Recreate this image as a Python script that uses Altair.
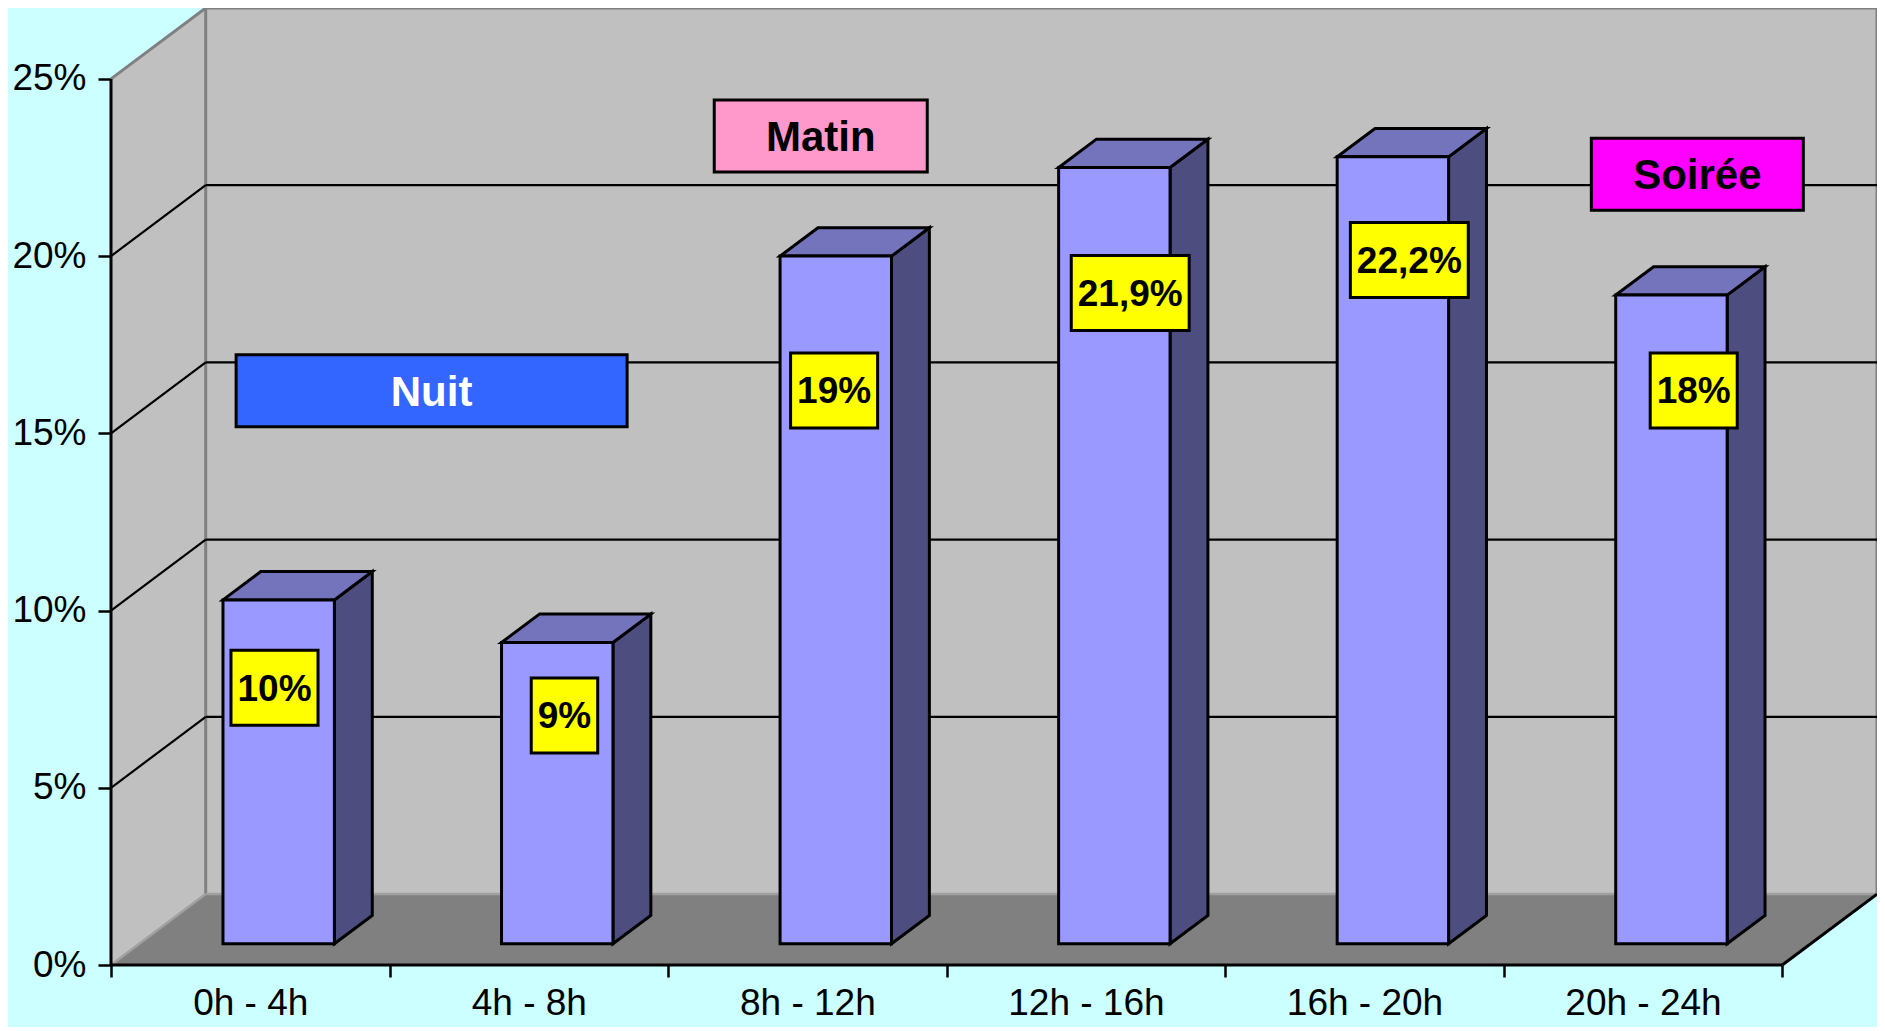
import json
import altair as alt
import pandas as pd

# ---------------- data ----------------
categories = ["0h - 4h", "4h - 8h", "8h - 12h", "12h - 16h", "16h - 20h", "20h - 24h"]
values = [9.7, 8.5, 19.4, 21.9, 22.2, 18.3]
value_labels = ["10%", "9%", "19%", "21,9%", "22,2%", "18%"]
# label-box centres (x in category units, y in %)
label_x = [0.587, 1.628, 2.596, 3.659, 4.661, 5.682]
label_y = [7.82, 7.04, 16.21, 18.96, 19.89, 16.21]

periods = ["Nuit", "Matin", "Soirée"]
period_x = [1.151, 2.548, 5.695]
period_y = [16.20, 23.39, 22.31]
period_w_px = [391, 213, 212]
period_fill = ["#3366FF", "#FF99CC", "#FF00FF"]
period_text = ["#FFFFFF", "#000000", "#000000"]

y_ticks = [0, 5, 10, 15, 20, 25]

# ---------------- 3-D projection constants ----------------
DX = 0.34      # depth shift, in category units
DY = 2.0       # depth shift, in %
F0, F1 = 0.3, 0.7   # bar front / back depth fractions
GAP, BW = 0.3, 0.4  # bar offset and width inside a category
NCAT = len(categories)
XMAX = NCAT + DX
YTOP = y_ticks[-1]
YMAX = YTOP + DY
PLOT_W, PLOT_H = 1766, 957
PXX = PLOT_W / XMAX
PXY = PLOT_H / YMAX

FONT = "Liberation Sans"
BG = "#CCFFFF"

xs = alt.Scale(domain=[0, XMAX], nice=False, zero=False)
ys = alt.Scale(domain=[0, YMAX], nice=False, zero=False)

x_axis = alt.Axis(
    values=list(range(NCAT + 1)),
    labelExpr=f"datum.value < {NCAT} ? {json.dumps(categories)}[datum.value] : ''",
    labelOffset=PXX / 2, labelFlush=False, labelOverlap=False, labelBound=False,
    domain=False, grid=False, tickSize=12, tickWidth=2.5, tickColor="black",
    labelFont=FONT, labelFontSize=37, labelColor="black", labelPadding=8, title=None,
)
y_axis = alt.Axis(
    values=y_ticks, labelExpr="datum.value + '%'", labelOverlap=False,
    domain=False, grid=False, tickSize=13, tickWidth=2.5, tickColor="black",
    labelFont=FONT, labelFontSize=37, labelColor="black", labelPadding=12, title=None,
)


def X(f):
    return alt.X(f, scale=xs, axis=x_axis)


def Y(f):
    return alt.Y(f, scale=ys, axis=y_axis)


# ---------------- walls & floor ----------------
back = pd.DataFrame([{"x0": DX, "x1": XMAX, "y0": DY, "y1": YMAX}])
back_l = alt.Chart(back).mark_rect(fill="#C0C0C0").encode(
    x=X("x0:Q"), x2="x1:Q", y=Y("y0:Q"), y2="y1:Q")

left = pd.DataFrame([{"x": 0, "y": 0, "y2": YTOP}, {"x": DX, "y": DY, "y2": YMAX}])
left_l = alt.Chart(left).mark_area(fill="#C0C0C0").encode(
    x=X("x:Q"), y=Y("y:Q"), y2="y2:Q")

floor = pd.DataFrame([{"y": 0, "x": 0, "x2": NCAT}, {"y": DY, "x": DX, "x2": XMAX}])
floor_l = alt.Chart(floor).mark_area(fill="#808080", orient="horizontal").encode(
    y=Y("y:Q"), x=X("x:Q"), x2="x2:Q")

segs = []
EDGE = "#808080"
segs += [
    dict(x=DX, y=YMAX, x2=XMAX, y2=YMAX, c=EDGE, w=3),
    dict(x=XMAX, y=DY, x2=XMAX, y2=YMAX, c=EDGE, w=3),
    dict(x=DX, y=DY, x2=DX, y2=YMAX, c=EDGE, w=3),
    dict(x=0, y=YTOP, x2=DX, y2=YMAX, c=EDGE, w=3),
    dict(x=0, y=0, x2=DX, y2=DY, c="#A0A0A0", w=2.5),
    dict(x=DX, y=DY, x2=XMAX, y2=DY, c="#A0A0A0", w=2.5),
]
for k in y_ticks[1:-1]:
    segs.append(dict(x=DX, y=k + DY, x2=XMAX, y2=k + DY, c="black", w=2.2))
    segs.append(dict(x=0, y=k, x2=DX, y2=k + DY, c="black", w=2.2))
segs += [
    dict(x=0, y=0, x2=NCAT, y2=0, c="black", w=3),
    dict(x=NCAT, y=0, x2=XMAX, y2=DY, c="black", w=3),
    dict(x=0, y=0, x2=0, y2=YTOP, c="black", w=3),
]
seg_l = alt.Chart(pd.DataFrame(segs)).mark_rule().encode(
    x=X("x:Q"), x2="x2:Q", y=Y("y:Q"), y2="y2:Q",
    color=alt.Color("c:N", scale=None), strokeWidth=alt.StrokeWidth("w:Q", scale=None))

# ---------------- bars ----------------
front_rows, side_rows, top_rows = [], [], []
dd = (F1 - F0) * DX
dh = (F1 - F0) * DY
for i, v in enumerate(values):
    xl = i + GAP + F0 * DX
    xr = xl + BW
    yb = F0 * DY
    yt = v + F0 * DY
    front_rows.append(dict(b=i, x0=xl, x1=xr, y0=yb, y1=yt))
    side_rows += [dict(b=i, x=xr, y=yb, y2=yt), dict(b=i, x=xr + dd, y=yb + dh, y2=yt + dh)]
    top_rows += [dict(b=i, y=yt, x=xl, x2=xr), dict(b=i, y=yt + dh, x=xl + dd, x2=xr + dd)]

SW = 3
side_l = alt.Chart(pd.DataFrame(side_rows)).mark_area(
    fill="#4D4D80", stroke="black", strokeWidth=SW).encode(
    x=X("x:Q"), y=Y("y:Q"), y2="y2:Q", detail="b:N")
top_l = alt.Chart(pd.DataFrame(top_rows)).mark_area(
    fill="#7474BD", stroke="black", strokeWidth=SW, orient="horizontal").encode(
    y=Y("y:Q"), x=X("x:Q"), x2="x2:Q", detail="b:N")
front_l = alt.Chart(pd.DataFrame(front_rows)).mark_rect(
    fill="#9999FF", stroke="black", strokeWidth=SW).encode(
    x=X("x0:Q"), x2="x1:Q", y=Y("y0:Q"), y2="y1:Q")

# ---------------- value labels ----------------
CW = {c: 0.556 for c in "0123456789"}
CW.update({",": 0.278, "%": 0.889})
VFS = 37
rows = []
for t, lx, ly in zip(value_labels, label_x, label_y):
    wpx = sum(CW.get(c, 0.6) for c in t) * VFS + 13
    hpx = 75
    rows.append(dict(t=t, cx=lx, cy=ly,
                     x0=lx - wpx / 2 / PXX, x1=lx + wpx / 2 / PXX,
                     y0=ly - hpx / 2 / PXY, y1=ly + hpx / 2 / PXY))
vl = pd.DataFrame(rows)
vbox_l = alt.Chart(vl).mark_rect(fill="#FFFF00", stroke="black", strokeWidth=SW).encode(
    x=X("x0:Q"), x2="x1:Q", y=Y("y0:Q"), y2="y1:Q")
vtxt_l = alt.Chart(vl).mark_text(font=FONT, fontWeight="bold", fontSize=VFS,
                                 align="center", baseline="middle", dy=2, color="black").encode(
    x=X("cx:Q"), y=Y("cy:Q"), text="t:N")

# ---------------- period annotations ----------------
prow = []
for t, px, py, w, f, tc in zip(periods, period_x, period_y, period_w_px, period_fill, period_text):
    h = 72
    prow.append(dict(t=t, cx=px, cy=py, f=f, tc=tc,
                     x0=px - w / 2 / PXX, x1=px + w / 2 / PXX,
                     y0=py - h / 2 / PXY, y1=py + h / 2 / PXY))
pl = pd.DataFrame(prow)
pbox_l = alt.Chart(pl).mark_rect(stroke="black", strokeWidth=SW).encode(
    x=X("x0:Q"), x2="x1:Q", y=Y("y0:Q"), y2="y1:Q",
    fill=alt.Fill("f:N", scale=None))
ptxt_l = alt.Chart(pl).mark_text(font=FONT, fontWeight="bold", fontSize=42,
                                 align="center", baseline="middle", dy=2).encode(
    x=X("cx:Q"), y=Y("cy:Q"), text="t:N", color=alt.Color("tc:N", scale=None))

chart = alt.layer(
    back_l, left_l, floor_l, seg_l, side_l, top_l, front_l,
    vbox_l, vtxt_l, pbox_l, ptxt_l,
).properties(
    width=PLOT_W, height=PLOT_H, background=BG,
    padding={"left": 103, "top": 0, "right": 0, "bottom": 62},
    autosize=alt.AutoSizeParams(type="none"),
).configure_view(stroke=None)

chart.save("out.html", embed_options={"renderer": "svg", "actions": False})
